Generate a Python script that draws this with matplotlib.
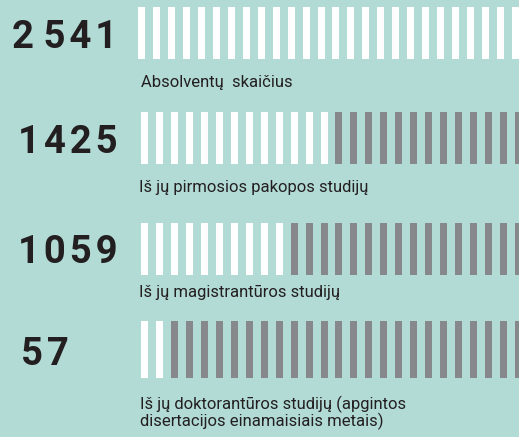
import matplotlib
matplotlib.use("Agg")
import matplotlib.pyplot as plt

# Data
numbers = ["2 541", "1425", "1059", "57"]
labels = [
    "Absolventų  skaičius",
    "Iš jų pirmosios pakopos studijų",
    "Iš jų magistrantūros studijų",
    "Iš jų doktorantūros studijų (apgintos\ndisertacijos einamaisiais metais)",
]
n_total = 26
n_white = [26, 13, 10, 2]

# Layout (pixels)
W, H = 519, 437
row_top = [7, 112, 223, 321]
row_bot = [59, 164, 275, 378]
bar_start = [138, 141, 141, 141]
period = 14.96
bar_w = 7.0
num_x = [12, 18, 18, 21]
num_base = [48, 153, 263, 365]
lab_x = [141, 139, 139, 140]
lab_base = [87, 192, 297, 426]

BG = "#b2dbd6"
GRAY = "#87888b"
DARK = "#231f20"

fig = plt.figure(figsize=(W / 100, H / 100), dpi=100, facecolor=BG)
ax = fig.add_axes([0, 0, 1, 1])
ax.set_facecolor(BG)
ax.set_xlim(0, W)
ax.set_ylim(H, 0)
ax.axis("off")


def spaced(s):
    # hair space between adjacent digits only (letter-spacing)
    out = ""
    for i, ch in enumerate(s):
        out += ch
        if i + 1 < len(s) and ch != " " and s[i + 1] != " ":
            out += "\u200a"
    return out


for r in range(4):
    xs = [bar_start[r] + period * i for i in range(n_total)]
    colors = ["white" if i < n_white[r] else GRAY for i in range(n_total)]
    ax.bar(xs, row_bot[r] - row_top[r], width=bar_w, bottom=row_top[r],
           align="edge", color=colors, linewidth=0)
    ax.text(num_x[r], num_base[r], spaced(numbers[r]), fontsize=27.5,
            fontweight="bold", family="Roboto", color=DARK,
            va="baseline", ha="left")
    ax.text(lab_x[r], lab_base[r], labels[r], fontsize=12, family="Roboto",
            color=DARK, va="baseline", ha="left", linespacing=1.0)

fig.savefig("out.png", dpi=100, facecolor=BG)
